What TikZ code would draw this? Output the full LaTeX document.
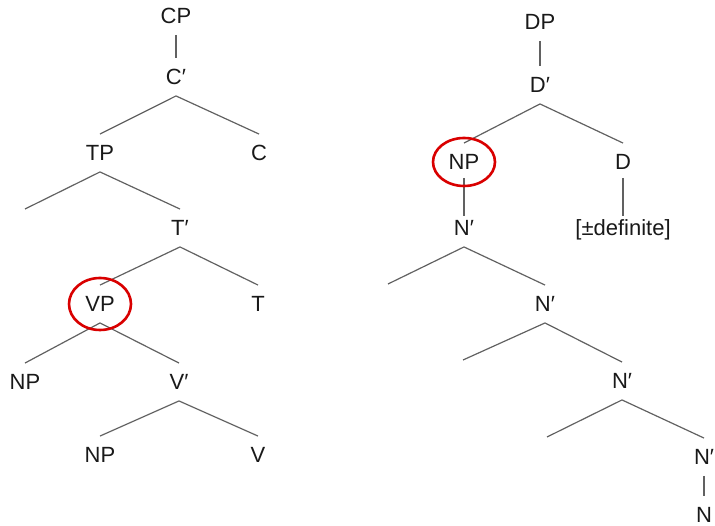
\documentclass[tikz,border=0pt]{standalone}
\usepackage{fontspec}
\setmainfont{Liberation Sans}
\begin{document}
\begin{tikzpicture}[x=1pt,y=-1pt,
  lab/.style={text=black!90, font=\fontsize{22}{26}\selectfont, text height=15.5pt, text depth=0pt, inner xsep=1pt, inner ysep=11pt},
  br/.style={draw=black!62, line width=1.2pt},
  ring/.style={draw=red!85!black, line width=2.6pt}]
\useasboundingbox (0,0) rectangle (715,526);
% left tree
\node[lab] (cp) at (176,16) {CP};
\node[lab] (c1) at (176,77) {C′};
\node[lab] (tp) at (100,153) {TP};
\node[lab] (c) at (259,153) {C};
\coordinate (tl) at (25,209);
\node[lab] (t1) at (180,228) {T′};
\node[lab] (vp) at (100,304) {VP};
\node[lab] (t) at (258,304) {T};
\node[lab] (np1) at (25,382) {NP};
\node[lab] (v1) at (179,382) {V′};
\node[lab] (np2) at (100,455) {NP};
\node[lab] (v) at (258,455) {V};
\draw[br] (cp.south) -- (c1.north);
\draw[br] (tp.north) -- (c1.south) -- (c.north);
\draw[br] (tl) -- (tp.south) -- (t1.north);
\draw[br] (vp.north) -- (t1.south) -- (t.north);
\draw[br] (np1.north) -- (vp.south) -- (v1.north);
\draw[br] (np2.north) -- (v1.south) -- (v.north);
\draw[ring] (vp.center) ellipse [x radius=31, y radius=26];
% right tree
\node[lab] (dp) at (540,22) {DP};
\node[lab] (d1) at (540,85) {D′};
\node[lab] (np3) at (464,162) {NP};
\node[lab] (d) at (623,162) {D};
\node[lab] (n1) at (464,228) {N′};
\node[lab] (def) at (623,228) {[±definite]};
\coordinate (l1) at (388,284);
\node[lab] (n2) at (545,304) {N′};
\coordinate (l2) at (463,360);
\node[lab] (n3) at (622,381) {N′};
\coordinate (l3) at (547,437);
\node[lab] (n4) at (704,457) {N′};
\node[lab] (n) at (704,515) {N};
\draw[br] (dp.south) -- (d1.north);
\draw[br] (np3.north) -- (d1.south) -- (d.north);
\draw[br, shorten <=-3pt, shorten >=-7pt] (np3.south) -- (n1.north);
\draw[br, shorten <=-3pt, shorten >=-7pt] (d.south) -- (def.north);
\draw[br] (l1) -- (n1.south) -- (n2.north);
\draw[br] (l2) -- (n2.south) -- (n3.north);
\draw[br] (l3) -- (n3.south) -- (n4.north);
\draw[br] (n4.south) -- (n.north);
\draw[ring] (np3.center) ellipse [x radius=31, y radius=24];
\end{tikzpicture}
\end{document}
